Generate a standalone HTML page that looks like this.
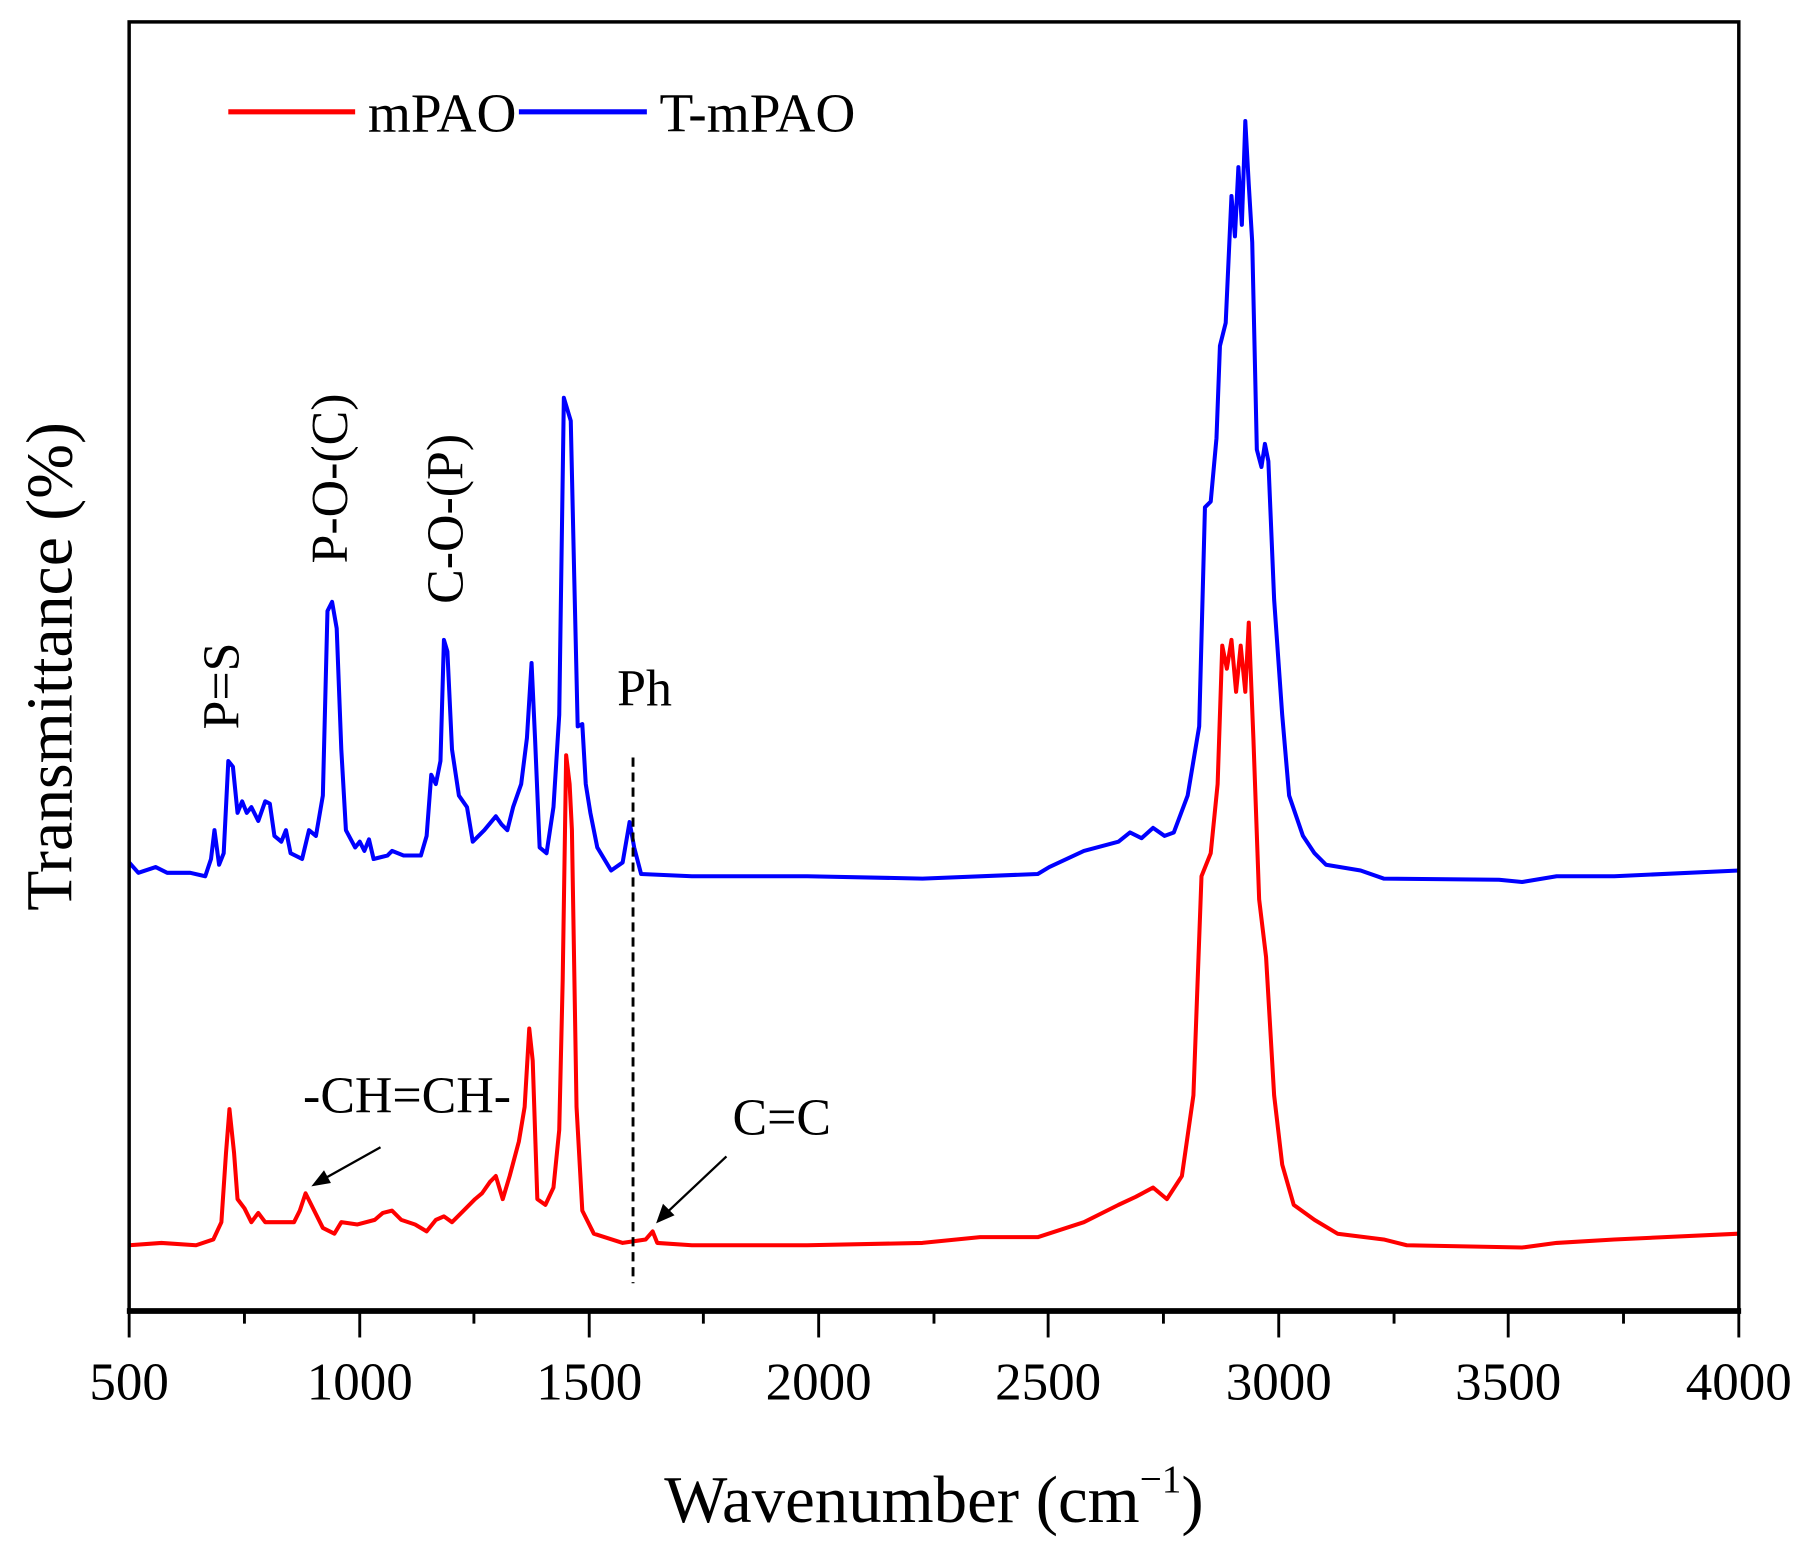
<!DOCTYPE html>
<html><head><meta charset="utf-8"><style>html,body{margin:0;padding:0;background:#fff}svg{display:block}</style></head>
<body>
<svg width="1808" height="1560" viewBox="0 0 1568 1353" preserveAspectRatio="none" xmlns="http://www.w3.org/2000/svg" font-family="'Liberation Serif', serif">
<rect width="1568" height="1353" fill="#fff"/>
<polyline fill="none" stroke="#0000ff" stroke-width="3.5" stroke-linejoin="round" points="112,748 120,757 135,752 145,757 165,757 178,760 183,745 186,720 190,750 194,740 198,660 202,665 206,705 210,695 214,705 218,700 224,712 230,695 234,697 238,725 244,730 248,720 252,740 262,745 268,720 274,725 280,690 284,530 288,522 292,545 296,650 300,720 308,735 312,730 316,738 320,728 324,745 336,742 340,738 350,742 365,742 370,725 374,672 378,680 382,660 385,555 388,565 392,650 398,690 405,700 410,730 420,720 430,708 435,715 440,720 445,700 452,680 457,640 461,575 464,640 468,735 474,740 480,700 485,620 489,345 492,355 495,365 498,500 501,630 505,628 508,680 512,705 518,735 530,755 540,748 546,713 550,735 556,758 600,760 700,760 800,762 900,758 910,752 940,738 970,730 980,722 990,727 1000,718 1010,725 1018,722 1030,690 1040,630 1045,440 1050,435 1055,380 1058,300 1063,280 1068,170 1071,205 1074,145 1077,195 1080,105 1083,160 1086,210 1090,390 1094,405 1097,385 1100,400 1105,520 1112,620 1118,690 1130,725 1140,740 1150,750 1180,755 1200,762 1300,763 1320,765 1350,760 1400,760 1508,755"/>
<polyline fill="none" stroke="#ff0000" stroke-width="3.5" stroke-linejoin="round" points="112,1080 140,1078 170,1080 185,1075 192,1060 196,1000 199,962 203,1000 206,1040 212,1048 218,1060 224,1052 230,1060 240,1060 255,1060 260,1050 265,1035 270,1045 280,1065 290,1070 296,1060 310,1062 325,1058 332,1052 340,1050 348,1058 360,1062 370,1068 378,1058 385,1055 392,1060 402,1050 412,1040 418,1035 425,1025 430,1020 436,1040 442,1020 450,990 455,960 459,892 462,920 466,1040 473,1045 480,1030 485,980 488,850 491,655 494,680 496,720 500,960 505,1050 515,1070 540,1078 560,1075 566,1068 570,1078 600,1080 700,1080 800,1078 850,1073 900,1073 940,1060 970,1045 985,1038 1000,1030 1012,1040 1025,1020 1035,950 1042,760 1046,750 1050,740 1056,680 1060,560 1064,580 1068,555 1072,600 1076,560 1080,600 1083,540 1087,640 1092,780 1098,830 1105,950 1112,1010 1122,1045 1140,1058 1160,1070 1200,1075 1220,1080 1320,1082 1350,1078 1400,1075 1508,1070"/>
<rect x="112" y="19" width="1396" height="1118" fill="none" stroke="#000" stroke-width="3"/>
<line x1="110" y1="1137" x2="1510" y2="1137" stroke="#000" stroke-width="5"/>
<g stroke="#000" stroke-width="2.5">
<line x1="112" y1="1137" x2="112" y2="1160"/><line x1="312" y1="1137" x2="312" y2="1160"/><line x1="511" y1="1137" x2="511" y2="1160"/><line x1="710" y1="1137" x2="710" y2="1160"/><line x1="909" y1="1137" x2="909" y2="1160"/><line x1="1109" y1="1137" x2="1109" y2="1160"/><line x1="1308" y1="1137" x2="1308" y2="1160"/><line x1="1508" y1="1137" x2="1508" y2="1160"/>
<line x1="212" y1="1137" x2="212" y2="1148"/><line x1="411" y1="1137" x2="411" y2="1148"/><line x1="610" y1="1137" x2="610" y2="1148"/><line x1="810" y1="1137" x2="810" y2="1148"/><line x1="1009" y1="1137" x2="1009" y2="1148"/><line x1="1209" y1="1137" x2="1209" y2="1148"/><line x1="1408" y1="1137" x2="1408" y2="1148"/>
</g>
<g font-size="46" text-anchor="middle">
<text x="112" y="1214">500</text><text x="312" y="1214">1000</text><text x="511" y="1214">1500</text><text x="710" y="1214">2000</text><text x="909" y="1214">2500</text><text x="1109" y="1214">3000</text><text x="1308" y="1214">3500</text><text x="1508" y="1214">4000</text>
</g>
<text x="810" y="1320" font-size="58" text-anchor="middle">Wavenumber (cm<tspan font-size="34" dy="-26">−1</tspan><tspan dy="26">)</tspan></text>
<text transform="translate(62,578) rotate(-90)" font-size="57" text-anchor="middle">Transmittance (%)</text>
<line x1="198" y1="97" x2="308" y2="97" stroke="#ff0000" stroke-width="4.5"/>
<text x="319" y="114" font-size="48">mPAO</text>
<line x1="450" y1="97" x2="561" y2="97" stroke="#0000ff" stroke-width="4.5"/>
<text x="572" y="114" font-size="48">T-mPAO</text>
<g font-size="45">
<text transform="translate(207,595) rotate(-90)" text-anchor="middle">P=S</text>
<text transform="translate(301,415) rotate(-90)" text-anchor="middle">P-O-(C)</text>
<text transform="translate(401,450) rotate(-90)" text-anchor="middle">C-O-(P)</text>
<text x="559" y="612" text-anchor="middle">Ph</text>
<text x="353" y="965" text-anchor="middle">-CH=CH-</text>
<text x="678" y="984" text-anchor="middle">C=C</text>
</g>
<line x1="549" y1="657" x2="549" y2="1113" stroke="#000" stroke-width="2.5" stroke-dasharray="8,5"/>
<line x1="330" y1="995" x2="280" y2="1023" stroke="#000" stroke-width="2"/>
<polygon points="270,1029 281,1015 287,1026" fill="#000"/>
<line x1="630" y1="1003" x2="578" y2="1052" stroke="#000" stroke-width="2"/>
<polygon points="569,1061 575,1044 585,1054" fill="#000"/>
</svg>
</body></html>
